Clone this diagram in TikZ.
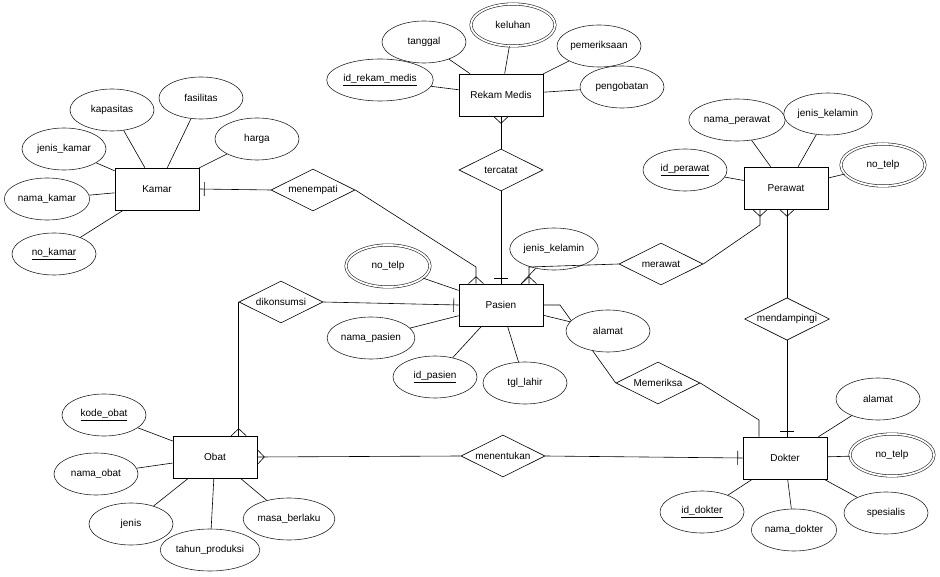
\documentclass[tikz,border=0pt]{standalone}
\usepackage{fontspec}
\setmainfont{Liberation Sans}
\usetikzlibrary{shapes.geometric, decorations.markings}

\begin{document}
\begin{tikzpicture}[x=1pt, y=-1pt, font=\fontsize{10}{12}\selectfont, line width=0.6pt,
  entity/.style={draw, fill=white, minimum width=84pt, minimum height=42pt},
  attr/.style={draw=black!85, ellipse, fill=white, minimum width=84pt, minimum height=42pt, inner sep=1pt},
  multi/.style={attr, double, double distance=1.8pt},
  rel/.style={draw, diamond, aspect=2, fill=white, minimum width=84pt, minimum height=42pt, inner sep=1pt},
  one/.style={postaction={decorate, decoration={markings, mark=at position -5pt with {\draw (0,-7pt) -- (0,7pt);}}}},
  many/.style={postaction={decorate, decoration={markings, mark=at position -7pt with {\draw (7pt,-7.5pt) -- (0,0) -- (7pt,7.5pt);}}}}]
\useasboundingbox (0,0) rectangle (940,577);

\node[entity] (kamar) at (157,189) {Kamar};
\node[entity] (rekam) at (501,95) {Rekam Medis};
\node[entity] (pasien) at (501,305) {Pasien};
\node[entity] (perawat) at (786,188) {Perawat};
\node[entity] (obat) at (215,457) {Obat};
\node[entity] (dokter) at (785,458) {Dokter};

\node[rel] (menempati) at (313,190) {menempati};
\node[rel] (tercatat) at (501,170) {tercatat};
\node[rel] (merawat) at (661,264) {merawat};
\node[rel] (mendampingi) at (787,319) {mendampingi};
\node[rel] (dikonsumsi) at (281,302) {dikonsumsi};
\node[rel] (memeriksa) at (658,383) {Memeriksa};
\node[rel] (menentukan) at (503,456) {menentukan};

\node[attr] (kapasitas) at (112,110) {kapasitas};
\node[attr] (fasilitas) at (201,98) {fasilitas};
\node[attr] (harga) at (257,139) {harga};
\node[attr] (jeniskamar) at (64,149) {jenis\_kamar};
\node[attr] (namakamar) at (47,199) {nama\_kamar};
\node[attr] (nokamar) at (54,254) {\underline{no\_kamar}};
\draw (kapasitas) -- (kamar) (fasilitas) -- (kamar) (harga) -- (kamar) (jeniskamar) -- (kamar) (namakamar) -- (kamar) (nokamar) -- (kamar);

\node[attr] (tanggal) at (424,42) {tanggal};
\node[multi] (keluhan) at (513,25) {keluhan};
\node[attr] (pemeriksaan) at (599,46) {pemeriksaan};
\node[attr] (idrekam) at (380,80) {\underline{id\_rekam\_medis}};
\node[attr] (pengobatan) at (622,87) {pengobatan};
\draw (tanggal) -- (rekam) (keluhan) -- (rekam) (pemeriksaan) -- (rekam) (idrekam) -- (rekam) (pengobatan) -- (rekam);

\node[multi] (telppasien) at (388,266) {no\_telp};
\node[attr] (jkpasien) at (554,249) {jenis\_kelamin};
\node[attr] (namapasien) at (371,338) {nama\_pasien};
\node[attr] (idpasien) at (435,377) {\underline{id\_pasien}};
\node[attr] (tgllahir) at (525,383) {tgl\_lahir};
\draw (telppasien) -- (pasien) (jkpasien) -- (pasien) (namapasien) -- (pasien) (idpasien) -- (pasien) (tgllahir) -- (pasien);

\node[attr] (idperawat) at (685,170) {\underline{id\_perawat}};
\node[attr] (namaperawat) at (737,120) {nama\_perawat};
\node[attr] (jkperawat) at (828,114) {jenis\_kelamin};
\node[multi] (telpperawat) at (883,165) {no\_telp};
\draw (idperawat) -- (perawat) (namaperawat) -- (perawat) (jkperawat) -- (perawat) (telpperawat) -- (perawat);

\node[attr] (alamatdokter) at (878,399) {alamat};
\node[multi] (telpdokter) at (892,455) {no\_telp};
\node[attr] (iddokter) at (702,512) {\underline{id\_dokter}};
\node[attr] (namadokter) at (794,530) {nama\_dokter};
\node[attr] (spesialis) at (886,513) {spesialis};
\draw (alamatdokter) -- (dokter) (telpdokter) -- (dokter) (iddokter) -- (dokter) (namadokter) -- (dokter) (spesialis) -- (dokter);

\node[attr] (kodeobat) at (104,415) {\underline{kode\_obat}};
\node[attr] (namaobat) at (96,474) {nama\_obat};
\node[attr] (jenis) at (131,524) {jenis};
\node[attr] (tahun) at (210,550) {tahun\_produksi};
\node[attr] (masa) at (289,519) {masa\_berlaku};
\draw (kodeobat) -- (obat) (namaobat) -- (obat) (jenis) -- (obat) (tahun) -- (obat) (masa) -- (obat);

\coordinate (m1) at (476,267);
\coordinate (m2) at (529,267);
\coordinate (m3) at (760,225);
\coordinate (m4) at (560,305);
\coordinate (m5) at (759,420);

\draw[one] (menempati.west) -- (kamar.east);
\draw[many] (menempati.east) -- (m1) -- (m1 |- pasien.north);
\draw[many] (tercatat.north) -- (rekam.south);
\draw[one] (tercatat.south) -- (pasien.north);
\draw[many] (merawat.west) -- (m2) -- (m2 |- pasien.north);
\draw[many] (merawat.east) -- (m3) -- (m3 |- perawat.south);
\draw[many] (mendampingi.north) -- (mendampingi.north |- perawat.south);
\draw[one] (mendampingi.south) -- (mendampingi.south |- dokter.north);
\draw (memeriksa.west) -- (m4) -- (pasien.east);
\draw (memeriksa.east) -- (m5) -- (m5 |- dokter.north);
\draw[one] (dikonsumsi.east) -- (pasien.west);
\draw[many] (dikonsumsi.west) -- (dikonsumsi.west |- obat.north);
\draw[many] (menentukan.west) -- (obat.east);
\draw[one] (menentukan.east) -- (dokter.west);

\node[attr] (alamatpasien) at (608,331) {alamat};
\draw (alamatpasien) -- (pasien);
\end{tikzpicture}
\end{document}
